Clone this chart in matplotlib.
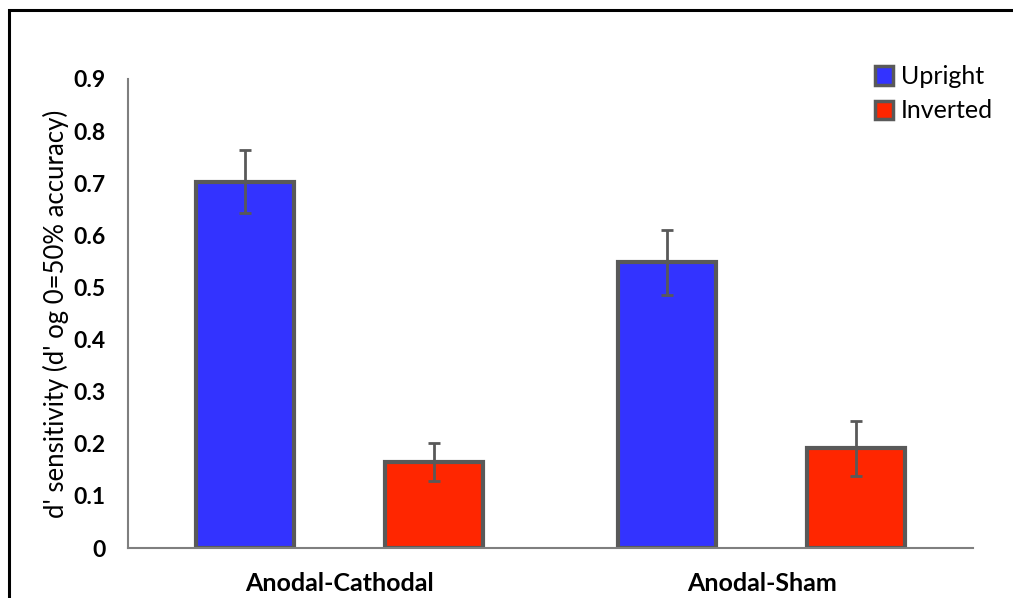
import matplotlib
matplotlib.use('Agg')
import matplotlib.pyplot as plt
import numpy as np
from matplotlib.patches import Patch, Rectangle

# d' sensitivity per stimulation condition
conditions = ['Anodal-Cathodal', 'Anodal-Sham']
upright    = [0.703, 0.548]
upright_se = [0.060, 0.062]
inverted   = [0.165, 0.191]
inverted_se = [0.037, 0.052]
series_names = ['Upright', 'Inverted']
yticks = [0, 0.1, 0.2, 0.3, 0.4, 0.5, 0.6, 0.7, 0.8, 0.9]
ytick_labels = ['0', '0.1', '0.2', '0.3', '0.4', '0.5', '0.6', '0.7', '0.8', '0.9']

blue, red = '#3333ff', '#ff2600'
edge = '#595959'

plt.rcParams['font.family'] = ['Lato', 'DejaVu Sans']

fig = plt.figure(figsize=(10.13, 5.98), dpi=100)
ax = fig.add_axes([0.1264, 0.0836, 0.8341, 0.7843])

x = np.arange(len(conditions))
w, off = 0.232, 0.224
err_kw = dict(ecolor=edge, elinewidth=2, capsize=4, capthick=2)
ax.bar(x - off, upright, w, yerr=upright_se, color=blue,
       edgecolor=edge, linewidth=3, error_kw=err_kw)
ax.bar(x + off, inverted, w, yerr=inverted_se, color=red,
       edgecolor=edge, linewidth=3, error_kw=err_kw)

ax.set_xlim(-0.5, 1.5)
ax.set_ylim(0, 0.9)
ax.set_yticks(yticks)
ax.set_yticklabels(ytick_labels, fontsize=16.5, fontweight='bold')
ax.set_xticks(x)
ax.set_xticklabels(conditions, fontsize=18, fontweight='bold')
ax.tick_params(length=0)
ax.tick_params(axis='y', pad=16)
ax.tick_params(axis='x', pad=17)
ax.set_ylabel("d' sensitivity (d' og 0=50% accuracy)", fontsize=18.5)
ax.yaxis.set_label_coords(-0.070, 0.5)

for s in ['top', 'right']:
    ax.spines[s].set_visible(False)
for s in ['left', 'bottom']:
    ax.spines[s].set_color('#7f7f7f')
    ax.spines[s].set_linewidth(1.5)

handles = [Patch(facecolor=blue, edgecolor=edge, linewidth=2.5),
           Patch(facecolor=red, edgecolor=edge, linewidth=2.5)]
fig.legend(handles, series_names, loc='upper right',
           bbox_to_anchor=(0.995, 0.916), frameon=False, fontsize=18,
           handlelength=0.75, handleheight=0.75, handletextpad=0.3,
           labelspacing=0.45, borderaxespad=0.2)

# outer chart-area frame (left and top edges)
fig.patches.append(Rectangle((9 / 1013, -0.1), 1.1, 1 - 10 / 598 + 0.1,
                             transform=fig.transFigure, fill=False,
                             edgecolor='black', linewidth=2.2))

fig.savefig('out.png', dpi=100)
plt.close()
